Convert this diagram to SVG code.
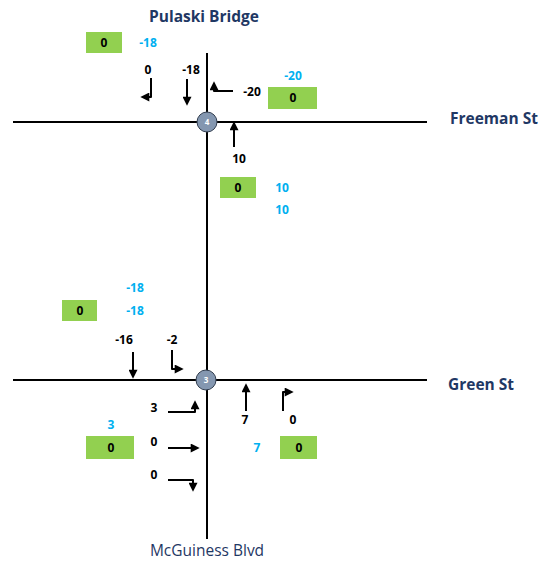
<svg xmlns="http://www.w3.org/2000/svg" width="542" height="562" viewBox="0 0 542 562">
<defs>
<marker id="ah" viewBox="0 0 10 10" refX="7" refY="5" markerWidth="5" markerHeight="4.5" orient="auto" markerUnits="strokeWidth"><path d="M0,0 L10,5 L0,10 z" fill="#000"/></marker>
<style>
.road{stroke:#000;stroke-width:2;fill:none}
.arr{stroke:#000;stroke-width:2;fill:none;stroke-linejoin:round;marker-end:url(#ah)}
.t{font-family:"Open Sans","Liberation Sans",sans-serif;font-weight:bold;font-size:12px;text-anchor:middle}
.k{fill:#000}
.b{fill:#00B0F0}
.box{fill:#92D050}
.st{font-family:"Open Sans","Liberation Sans",sans-serif;font-weight:bold;font-size:15.5px;fill:#1F3864}
.nd{fill:#8497B0;stroke:#333F50;stroke-width:1}
.nt{font-family:"Open Sans","Liberation Sans",sans-serif;font-size:8px;fill:#fff;text-anchor:middle;font-weight:bold}
</style>
</defs>
<g id="roads">
<line class="road" x1="207" y1="53" x2="207" y2="539"/>
<line class="road" x1="13" y1="122" x2="427" y2="122"/>
<line class="road" x1="13" y1="380" x2="427" y2="380"/>
</g>
<g id="labels">
<text class="st" x="204" y="22" text-anchor="middle">Pulaski Bridge</text>
<text class="st" x="450" y="124">Freeman St</text>
<text class="st" x="448" y="390">Green St</text>
<text x="207" y="556" text-anchor="middle" style="font-family:'Open Sans','Liberation Sans',sans-serif;font-size:15.5px;fill:#1F3864">McGuiness Blvd</text>
</g>
<g id="connectors">
<path class="arr" d="M151,78 V97 H143"/>
<path class="arr" d="M187,79 V103"/>
<path class="arr" d="M233,91 H214 V84"/>
<path class="arr" d="M234,147 V124"/>
<path class="arr" d="M133,352 V376"/>
<path class="arr" d="M172,350 V369 H181"/>
<path class="arr" d="M168,412 H195 V403"/>
<path class="arr" d="M168,448 H197"/>
<path class="arr" d="M168,480 H193 V489"/>
<path class="arr" d="M246,411 V386"/>
<path class="arr" d="M283,411 V392 H291"/>
</g>
<g id="boxes">
<rect class="box" x="86" y="32" width="36" height="21"/>
<text class="t k" x="104" y="47">0</text>
<text class="t b" x="148" y="47">-18</text>
<text class="t k" x="148" y="74">0</text>
<text class="t k" x="191" y="74">-18</text>
<text class="t k" x="252" y="96">-20</text>
<text class="t b" x="293" y="80">-20</text>
<rect class="box" x="268" y="87" width="49" height="22"/>
<text class="t k" x="293" y="102">0</text>
<text class="t k" x="239" y="163">10</text>
<rect class="box" x="220" y="177" width="36" height="21"/>
<text class="t k" x="238" y="192">0</text>
<text class="t b" x="282" y="192">10</text>
<text class="t b" x="282" y="214">10</text>
<text class="t b" x="135" y="292">-18</text>
<rect class="box" x="62" y="300" width="35" height="21"/>
<text class="t k" x="80" y="315">0</text>
<text class="t b" x="135" y="315">-18</text>
<text class="t k" x="124" y="344">-16</text>
<text class="t k" x="172" y="344">-2</text>
<text class="t k" x="154" y="412">3</text>
<text class="t b" x="111" y="429">3</text>
<rect class="box" x="86" y="436" width="48" height="23"/>
<text class="t k" x="111" y="452">0</text>
<text class="t k" x="154" y="446">0</text>
<text class="t k" x="154" y="479">0</text>
<text class="t k" x="245" y="424">7</text>
<text class="t k" x="293" y="424">0</text>
<text class="t b" x="257" y="452">7</text>
<rect class="box" x="280" y="436" width="37" height="23"/>
<text class="t k" x="299" y="452">0</text>
</g>
<g id="node4">
<circle class="nd" cx="207" cy="122" r="10"/>
<text class="nt" x="207" y="125">4</text>
</g>
<g id="node3">
<circle class="nd" cx="206" cy="380" r="10"/>
<text class="nt" x="206" y="383">3</text>
</g>
</svg>
